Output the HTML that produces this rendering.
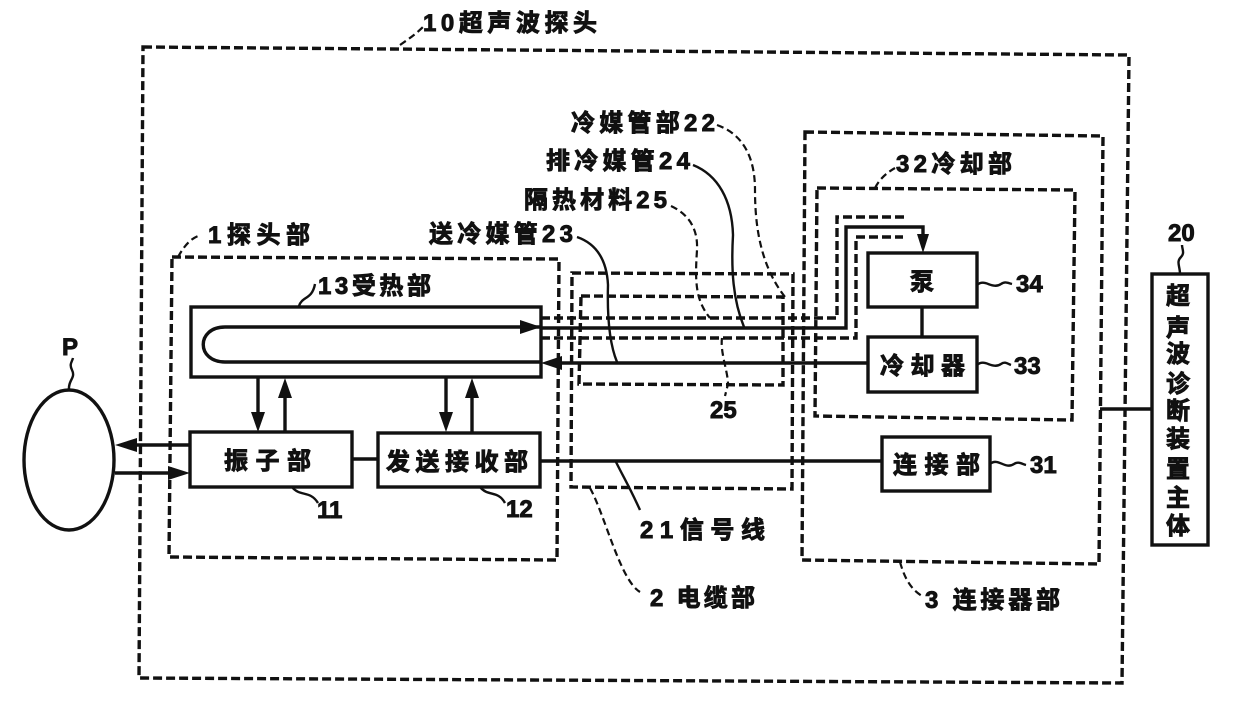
<!DOCTYPE html>
<html><head><meta charset="utf-8"><style>
html,body{margin:0;padding:0;background:#fff}
svg{display:block}
text{font-family:"Liberation Sans","Noto Sans CJK SC",sans-serif;font-weight:700;fill:#111;stroke:#111;stroke-width:.9}
.d{fill:none;stroke:#111;stroke-width:3.4;stroke-dasharray:9 4}
.t{fill:none;stroke:#111;stroke-width:2.2;stroke-dasharray:7 4}
.s{fill:none;stroke:#111;stroke-width:3.4}
.c{fill:none;stroke:#111;stroke-width:2.4}
.h{fill:#111;stroke:none}
</style></head><body>
<svg width="1240" height="703" viewBox="0 0 1240 703" xmlns="http://www.w3.org/2000/svg">
<!-- dashed boxes -->
<path class="d" d="M143 47L1129 55L1122 683L139 678Z"/>
<path class="d" d="M172 257L559 259L557 560L169 557Z"/>
<path class="d" d="M572 273L793 274L792 489L571 487Z"/>
<path class="d" d="M581 296L783 297L783 385L579 384Z"/>
<path class="d" d="M805 132L1103 136L1099 564L802 560Z"/>
<path class="d" d="M817 188L1075 190L1072 420L815 416Z"/>
<!-- coolant pipes -->
<path class="d" d="M541 318H837V217H907"/>
<path class="d" d="M541 338H856V237H903"/>
<path class="s" d="M541 328H846V227H923V240"/>
<path class="h" d="M917 234L929 234L923 253Z"/>
<path class="s" d="M868 363H560"/>
<path class="h" d="M541 363L562 356V370Z"/>
<path class="h" d="M541 327L520 320V334Z"/>
<!-- solid boxes -->
<rect class="s" x="191" y="307" width="350" height="70"/>
<path class="s" d="M225 327H541M225 362H541M225 327C196 327 196 362 225 362"/>
<rect class="s" x="190" y="432" width="162" height="55"/>
<rect class="s" x="378" y="433" width="162" height="54"/>
<rect class="s" x="868" y="253" width="109" height="54"/>
<rect class="s" x="868" y="337" width="109" height="55"/>
<rect class="s" x="882" y="437" width="108" height="54"/>
<rect class="s" x="1152" y="274" width="56" height="271"/>
<ellipse class="s" cx="69" cy="460" rx="45" ry="70"/>
<!-- connecting lines -->
<path class="s" d="M352 459H378M540 461H882M922 307V337M1100 409H1151"/>
<path class="s" d="M258 378V420M285 390V432M446 378V420M472 390V432"/>
<path class="h" d="M251 412H265L258 432ZM278 398H292L285 378ZM439 412H453L446 432ZM465 398H479L472 378Z"/>
<path class="s" d="M132 445H190M115 473H172"/>
<path class="h" d="M115 445L137 438V452ZM190 473L168 466V480Z"/>
<!-- curved leaders -->
<path class="c" d="M69 390C68 380 76 378 72 370C69 364 72 362 73 358"/>
<path class="c" d="M299 306C302 296 312 300 315 284"/>
<path class="c" d="M292 487C300 497 310 490 318 503"/>
<path class="c" d="M480 487C488 497 498 490 505 503"/>
<path class="c" d="M977 285C985 278 992 290 1001 284C1005 281 1008 283 1012 284"/>
<path class="c" d="M977 365C985 358 992 370 1001 364C1005 361 1008 364 1011 365"/>
<path class="c" d="M990 464C998 457 1005 470 1014 464C1018 461 1022 464 1026 465"/>
<path class="c" d="M1180 274C1180 266 1176 262 1181 257C1185 253 1182 249 1182 245"/>
<path class="c" d="M693 165C718 175 732 200 733 235C731 270 733 300 744 327"/>
<path class="c" d="M577 237C600 245 607 265 608 285C607 320 610 345 617 362"/>
<path class="c" d="M616 462C625 480 630 488 640 510"/>
<path class="t" d="M400 45C410 38 416 34 425 25"/>
<path class="t" d="M178 257C182 250 188 240 198 236"/>
<path class="t" d="M717 125C745 135 755 160 755 190C755 225 760 265 785 297"/>
<path class="t" d="M671 206C690 215 698 230 697 250C695 280 695 300 710 318"/>
<path class="t" d="M722 338C720 352 728 372 728 384L725 396"/>
<path class="t" d="M875 188C880 178 888 172 895 168"/>
<path class="t" d="M590 488C605 515 620 580 640 592"/>
<path class="t" d="M900 562C905 580 912 590 922 596"/>
<!-- labels -->
<g font-size="24" lengthAdjust="spacing">
<text x="423" y="31" textLength="174">10超声波探头</text>
<text x="571" y="131" textLength="144">冷媒管部22</text>
<text x="546" y="169" textLength="144">排冷媒管24</text>
<text x="524" y="208" textLength="143">隔热材料25</text>
<text x="429" y="242" textLength="144">送冷媒管23</text>
<text x="896" y="172" textLength="116">32冷却部</text>
<text x="208" y="243" textLength="102">1探头部</text>
<text x="318" y="294" textLength="113">13受热部</text>
<text x="224" y="469" textLength="87">振子部</text>
<text x="386" y="470" textLength="142">发送接收部</text>
<text x="910" y="290">泵</text>
<text x="880" y="374" textLength="85">冷却器</text>
<text x="893" y="473" textLength="87">连接部</text>
<text x="640" y="538" textLength="125">21信号线</text>
<text x="650" y="606" textLength="105">2 电缆部</text>
<text x="925" y="608" textLength="135">3 连接器部</text>
<text x="1016" y="292">34</text>
<text x="1014" y="374">33</text>
<text x="1030" y="473">31</text>
<text x="710" y="418">25</text>
<text x="317" y="518">11</text>
<text x="506" y="517">12</text>
<text x="1168" y="241">20</text>
<text x="62" y="355">P</text>
<text x="1166" y="304">超</text>
<text x="1166" y="336">声</text>
<text x="1166" y="362">波</text>
<text x="1166" y="392">诊</text>
<text x="1166" y="419">断</text>
<text x="1166" y="447">装</text>
<text x="1166" y="477">置</text>
<text x="1166" y="506">主</text>
<text x="1166" y="534">体</text>
</g>
</svg>
</body></html>
